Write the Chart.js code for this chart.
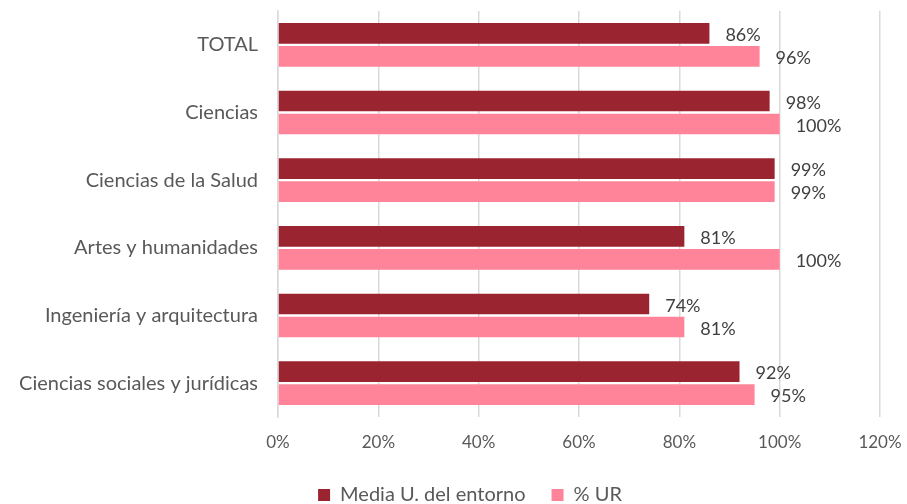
<!DOCTYPE html>
<html>
<head>
<meta charset="utf-8">
<script src="https://cdn.jsdelivr.net/npm/chart.js@4"></script>
<style>
  html, body { margin: 0; padding: 0; background: #fff; }
  #wrap { width: 907px; height: 504px; }
</style>
</head>
<body>
<div id="wrap"><canvas id="barChart" width="907" height="504"></canvas></div>
<script>
var categories = ["TOTAL", "Ciencias", "Ciencias de la Salud", "Artes y humanidades", "Ingeniería y arquitectura", "Ciencias sociales y jurídicas"];
var mediaEntorno = [86, 98, 99, 81, 74, 92];
var porcentajeUR = [96, 100, 99, 100, 81, 95];
var tickValues = [0, 20, 40, 60, 80, 100, 120];

var FONT = "Lato, 'Liberation Sans', sans-serif";

// etiquetas de valor a la derecha de cada barra
var valueLabels = {
  id: 'valueLabels',
  afterLayout: function(chart) {
    // la leyenda va un poco desplazada a la derecha
    chart.legend.left += 30;
    chart.legend.right += 30;
  },
  afterDatasetsDraw: function(chart) {
    var ctx = chart.ctx;
    ctx.save();
    ctx.font = "18px " + FONT;
    ctx.fillStyle = "#404040";
    ctx.textAlign = "left";
    ctx.textBaseline = "middle";
    chart.data.datasets.forEach(function(ds, i) {
      chart.getDatasetMeta(i).data.forEach(function(bar, j) {
        ctx.fillText(ds.data[j] + "%", bar.x + 16, bar.y + 2);
      });
    });
    ctx.restore();
  }
};

var chartJs = new Chart(document.getElementById("barChart"), {
  type: 'bar',
  data: {
    labels: categories,
    datasets: [
      {
        label: "Media U. del entorno",
        backgroundColor: "#9B2431",
        data: mediaEntorno,
        categoryPercentage: 0.68,
        barPercentage: 0.9
      },
      {
        label: "% UR",
        backgroundColor: "#FF8399",
        data: porcentajeUR,
        categoryPercentage: 0.68,
        barPercentage: 0.9
      }
    ]
  },
  options: {
    indexAxis: 'y',
    responsive: false,
    animation: false,
    layout: { padding: { top: 11, right: 27, bottom: -11, left: 0 } },
    plugins: {
      tooltip: { enabled: false },
      legend: {
        position: 'bottom',
        labels: {
          boxWidth: 12,
          boxHeight: 12,
          padding: 26,
          color: "#595959",
          font: { size: 20, family: FONT }
        }
      }
    },
    scales: {
      x: {
        min: 0,
        max: 120,
        afterBuildTicks: function(scale) {
          scale.ticks = tickValues.map(function(v) { return { value: v }; });
        },
        afterFit: function(scale) {
          scale.height = 42;
          scale.paddingLeft = 0;
          scale.paddingRight = 0;
        },
        grid: { color: "#d9d9d9", lineWidth: 1.5, drawTicks: false },
        border: { display: false },
        ticks: {
          padding: 15,
          color: "#595959",
          font: { size: 17, family: FONT },
          callback: function(v) { return v + "%"; }
        }
      },
      y: {
        afterFit: function(scale) {
          scale.width = 278;
          scale.paddingTop = 0;
          scale.paddingBottom = 0;
        },
        grid: { display: false },
        border: { color: "#d9d9d9", width: 1.5 },
        ticks: {
          padding: 12,
          color: "#595959",
          font: { size: 20, family: FONT }
        }
      }
    }
  },
  plugins: [valueLabels]
});
</script>
</body>
</html>
